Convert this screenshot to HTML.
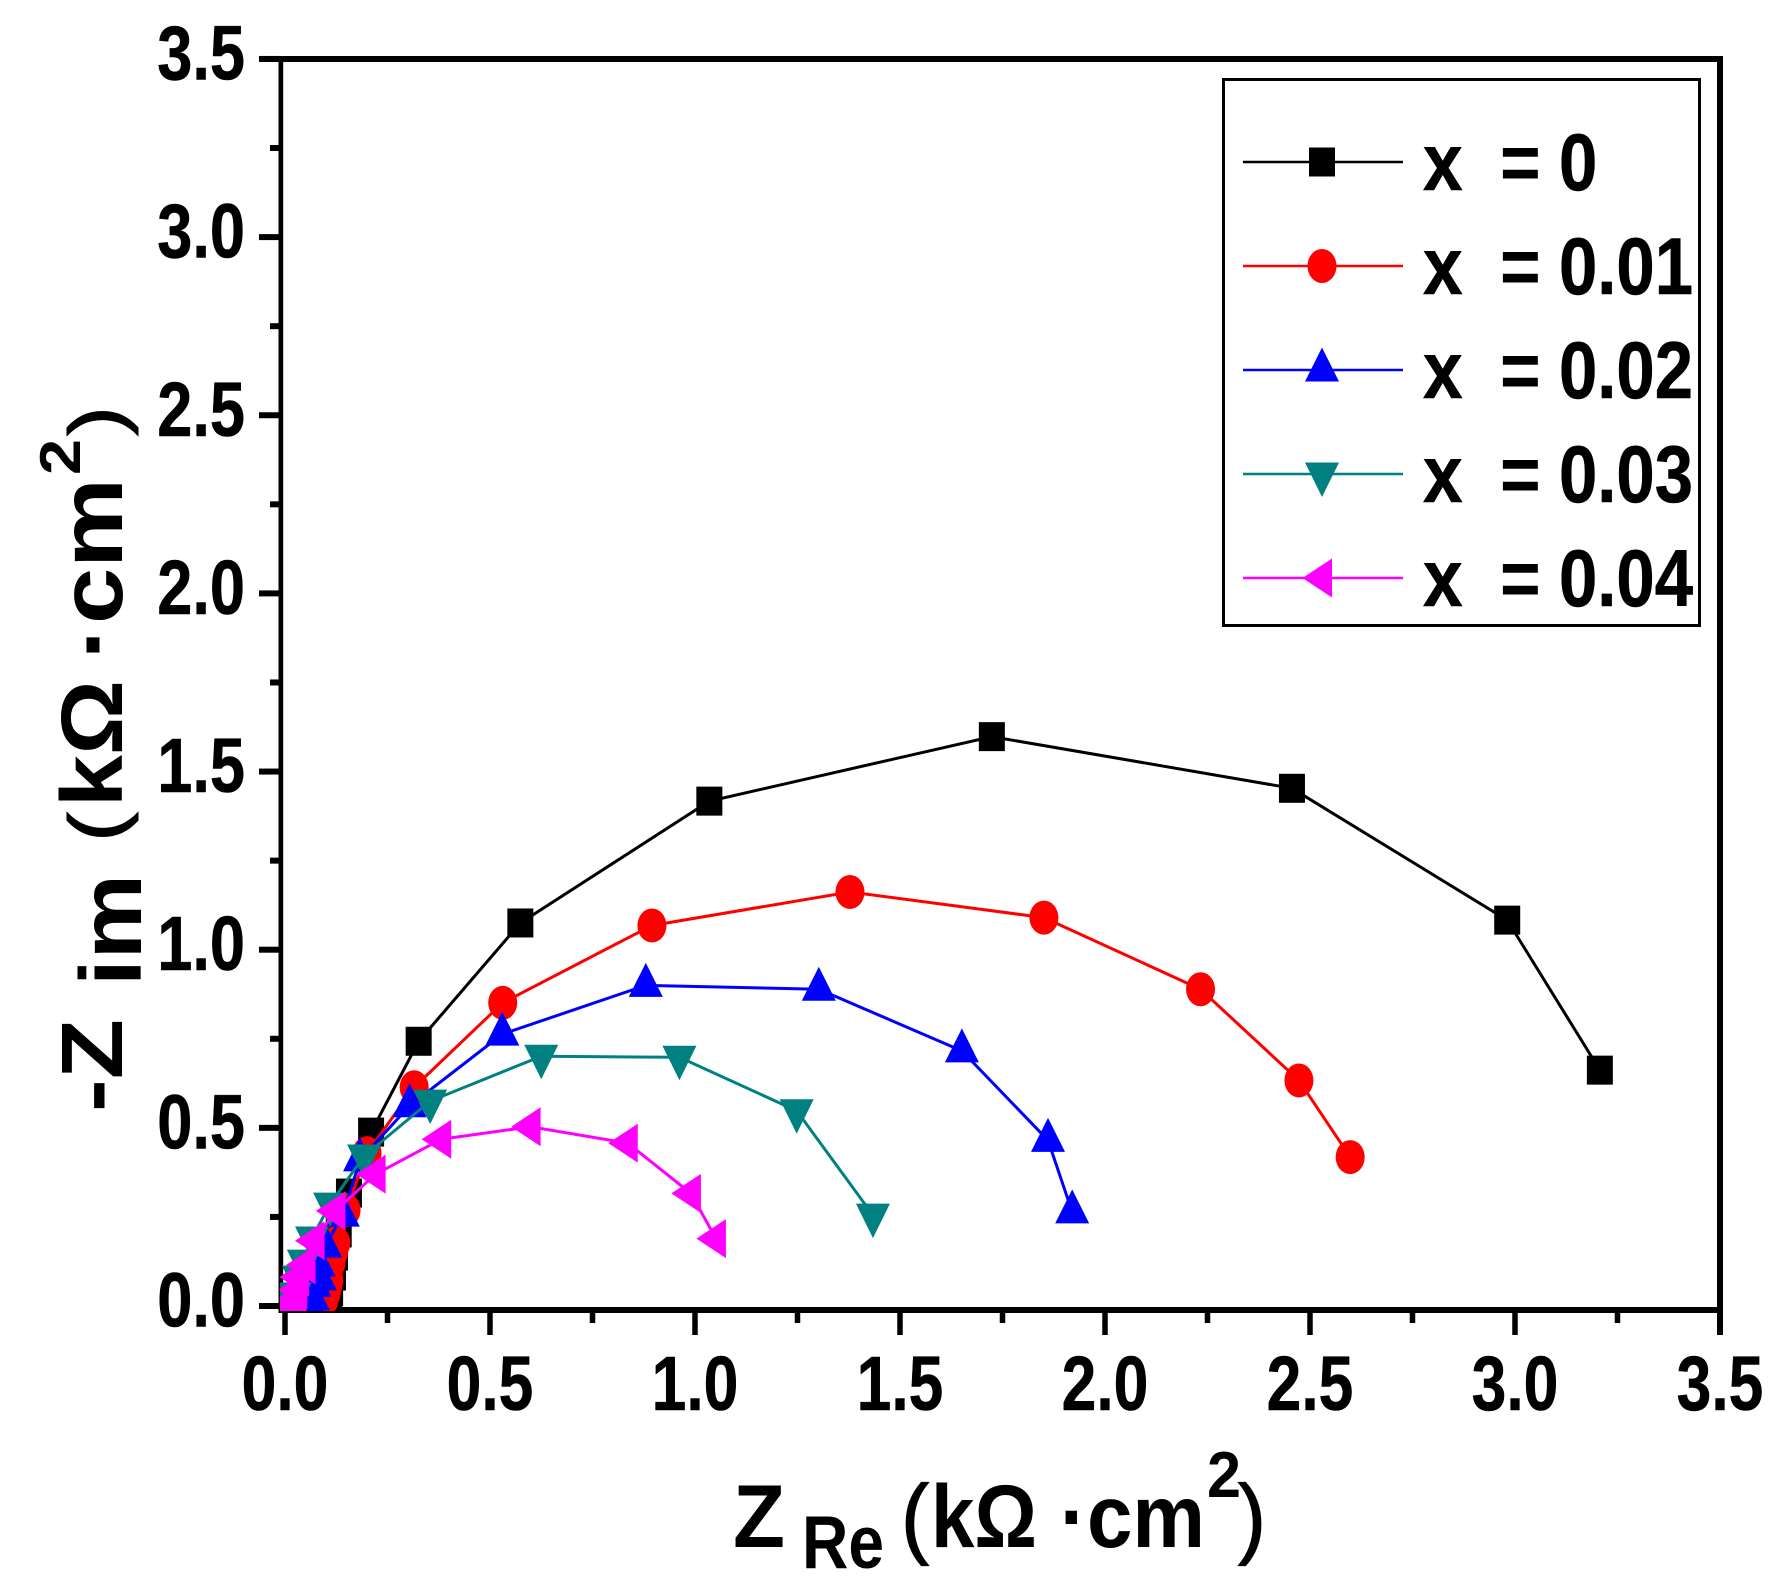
<!DOCTYPE html>
<html lang="en">
<head>
<meta charset="utf-8">
<title>Nyquist plot</title>
<style>
html,body{margin:0;padding:0;background:#fff;}
svg{display:block;}
text{font-family:"Liberation Sans","DejaVu Sans",sans-serif;font-weight:bold;fill:#000;}
text.thin{font-weight:normal;stroke:#000;stroke-width:1.2px;}
</style>
</head>
<body>
<svg id="chart" xmlns="http://www.w3.org/2000/svg" width="1790" height="1593" viewBox="0 0 1790 1593">
  <rect x="0" y="0" width="1790" height="1593" fill="#fff"/>
  <defs>
    <clipPath id="plot-clip"><rect x="280" y="56" width="1440" height="1255"/></clipPath>
  </defs>
  <g id="axes"></g>
  <g id="series" clip-path="url(#plot-clip)"></g>

  <g>
    <text x="733" y="1547" font-size="89" textLength="52" lengthAdjust="spacingAndGlyphs">Z</text>
    <text x="802" y="1568" font-size="75" textLength="82" lengthAdjust="spacingAndGlyphs">Re</text>
    <text class="thin" x="901" y="1547" font-size="89" textLength="28" lengthAdjust="spacingAndGlyphs">(</text>
    <text x="931" y="1547" font-size="89" textLength="106" lengthAdjust="spacingAndGlyphs">kΩ</text>
    <text x="1060" y="1547" font-size="89" textLength="27" lengthAdjust="spacingAndGlyphs">·</text>
    <text x="1087" y="1547" font-size="89" textLength="118" lengthAdjust="spacingAndGlyphs">cm</text>
    <text x="1207" y="1497" font-size="65" textLength="34" lengthAdjust="spacingAndGlyphs">2</text>
    <text class="thin" x="1238" y="1547" font-size="89" textLength="28" lengthAdjust="spacingAndGlyphs">)</text>
  </g>

  <g>
    <text transform="translate(122,1112) rotate(-90) scale(1,.83)" font-size="105" textLength="93" lengthAdjust="spacingAndGlyphs">-Z</text>
    <text transform="translate(141,986) rotate(-90) scale(1,.83)" font-size="105" textLength="112" lengthAdjust="spacingAndGlyphs">im</text>
    <text class="thin" transform="translate(122,842) rotate(-90) scale(1,.83)" font-size="92" textLength="30" lengthAdjust="spacingAndGlyphs">(</text>
    <text transform="translate(122,807) rotate(-90) scale(1,.83)" font-size="105" textLength="127" lengthAdjust="spacingAndGlyphs">kΩ</text>
    <text transform="translate(122,660) rotate(-90) scale(1,.83)" font-size="105" textLength="36" lengthAdjust="spacingAndGlyphs">·</text>
    <text transform="translate(122,624) rotate(-90) scale(1,.83)" font-size="107" textLength="146" lengthAdjust="spacingAndGlyphs">cm</text>
    <text transform="translate(80,475) rotate(-90) scale(1,.83)" font-size="69" textLength="36" lengthAdjust="spacingAndGlyphs">2</text>
    <text class="thin" transform="translate(122,436) rotate(-90) scale(1,.83)" font-size="92" textLength="30" lengthAdjust="spacingAndGlyphs">)</text>
  </g>

  <rect x="1223.5" y="79.5" width="476" height="546" fill="none" stroke="#000" stroke-width="3"/>
  <g id="legend"></g>
</svg>

<script>
const xTickLabels = ["0.0","0.5","1.0","1.5","2.0","2.5","3.0","3.5"];
const yTickLabels = ["0.0","0.5","1.0","1.5","2.0","2.5","3.0","3.5"];
const seriesNames = ["x = 0","x = 0.01","x = 0.02","x = 0.03","x = 0.04"];
const legendValues = ["0","0.01","0.02","0.03","0.04"];

const x0Re = [3.207,2.981,2.456,1.724,1.035,0.574,0.326,0.210,0.156,0.131,0.122,0.117,0.110,0.107];
const x0Im = [0.662,1.083,1.453,1.598,1.417,1.075,0.743,0.488,0.317,0.205,0.140,0.084,0.040,0];

const x1Re = [2.598,2.473,2.233,1.851,1.378,0.895,0.531,0.315,0.200,0.149,0.124,0.118,0.112,0.107,0.104,0.100,0.095,0.088];
const x1Im = [0.418,0.633,0.889,1.090,1.162,1.068,0.851,0.614,0.429,0.269,0.177,0.150,0.121,0.073,0.055,0.036,0.018,0];

const x2Re = [1.920,1.861,1.651,1.302,0.880,0.530,0.304,0.183,0.141,0.098,0.082,0.085,0.072,0.068,0.061];
const x2Im = [0.264,0.465,0.716,0.889,0.900,0.763,0.562,0.410,0.255,0.168,0.115,0.076,0.058,0.020,0];

const x3Re = [1.434,1.248,0.962,0.625,0.354,0.193,0.110,0.066,0.046,0.034,0.024,0.012,0.005];
const x3Im = [0.255,0.548,0.698,0.701,0.575,0.421,0.286,0.191,0.126,0.081,0.034,0.008,0];

const x4Re = [1.051,0.990,0.836,0.599,0.381,0.221,0.123,0.072,0.050,0.034,0.030,0.028,0.025,0.012,0.002];
const x4Im = [0.189,0.316,0.457,0.503,0.468,0.370,0.267,0.183,0.115,0.081,0.045,0.017,0.006,0.004,0];

const NS = "http://www.w3.org/2000/svg";
const xScale = v => 285 + 410 * v;
const yScale = v => 1306 - 356.3 * v;

function make(tag, attrs, parent) {
  const el = document.createElementNS(NS, tag);
  for (const k in attrs) el.setAttribute(k, attrs[k]);
  parent.appendChild(el);
  return el;
}

function drawMarker(kind, cx, cy, color, parent) {
  let el;
  if (kind === "square") {
    el = make("rect", {x: cx - 13, y: cy - 14.5, width: 26, height: 29, fill: color}, parent);
  } else if (kind === "circle") {
    el = make("ellipse", {cx: cx, cy: cy, rx: 14.5, ry: 17, fill: color}, parent);
  } else if (kind === "up") {
    el = make("polygon", {points: `${cx},${cy - 22.5} ${cx - 17},${cy + 11.5} ${cx + 17},${cy + 11.5}`, fill: color}, parent);
  } else if (kind === "down") {
    el = make("polygon", {points: `${cx},${cy + 23} ${cx - 17},${cy - 11.5} ${cx + 17},${cy - 11.5}`, fill: color}, parent);
  } else {
    el = make("polygon", {points: `${cx - 19.5},${cy} ${cx + 10},${cy - 19.5} ${cx + 10},${cy + 19.5}`, fill: color}, parent);
  }
  return el;
}

const axes = document.getElementById("axes");

const spineBottom = make("rect", {x: 278.5, y: 1307, width: 1444.5, height: 6, fill: "#000"}, axes);


const spineLeft = make("rect", {x: 278.5, y: 56, width: 4.7, height: 1257, fill: "#000"}, axes);


const spineTop = make("rect", {x: 259, y: 56, width: 1464, height: 6, fill: "#000"}, axes);


const spineRight = make("rect", {x: 1717, y: 56, width: 6, height: 1279, fill: "#000"}, axes);



xTickLabels.forEach((label, i) => {
  const v = parseFloat(label);
  const px = xScale(v);
  const tick = make("rect", {x: px - 2.75, y: 1313, width: 5.5, height: 22, fill: "#000"}, axes);
  
  
  if (i < xTickLabels.length - 1) {
    const minor = make("rect", {x: xScale(v + 0.25) - 2.75, y: 1313, width: 5.5, height: 10, fill: "#000"}, axes);
    
    
  }
  const t = make("text", {transform: `translate(${px},1410) scale(.81,1)`, "font-size": 77, "text-anchor": "middle", stroke: "#000", "stroke-width": 0.6}, axes);
  t.textContent = label;
  
  
});

yTickLabels.forEach((label, i) => {
  const v = parseFloat(label);
  const py = yScale(v);
  const tick = make("rect", {x: 259, y: py - 3, width: 21, height: 6, fill: "#000"}, axes);
  
  
  if (i < yTickLabels.length - 1) {
    const minor = make("rect", {x: 270, y: yScale(v + 0.25) - 3, width: 10, height: 6, fill: "#000"}, axes);
    
    
  }
  const t = make("text", {transform: `translate(245,${py + 20.5}) scale(.82,1)`, "font-size": 77, "text-anchor": "end", stroke: "#000", "stroke-width": 0.6}, axes);
  t.textContent = label;
  
  
});

const seriesGroup = document.getElementById("series");
const seriesRe = [x0Re, x1Re, x2Re, x3Re, x4Re];
const seriesIm = [x0Im, x1Im, x2Im, x3Im, x4Im];
const colors = ["#000000", "#ff0000", "#0000ff", "#008080", "#ff00ff"];
const markers = ["square", "circle", "up", "down", "left"];

seriesRe.forEach((re, s) => {
  const g = make("g", {}, seriesGroup);
  
  
  const pts = re.map((v, i) => xScale(v) + "," + yScale(seriesIm[s][i])).join(" ");
  const line = make("polyline", {points: pts, fill: "none", stroke: colors[s], "stroke-width": 3}, g);
  
  
  re.forEach((v, i) => {
    const m = drawMarker(markers[s], xScale(v), yScale(seriesIm[s][i]), colors[s], g);
    
    
  });
});

const legend = document.getElementById("legend");
seriesNames.forEach((name, s) => {
  const rowY = 162 + 104 * s;
  const row = make("g", {}, legend);
  
  
  const l = make("line", {x1: 1243, x2: 1403, y1: rowY, y2: rowY, stroke: colors[s], "stroke-width": 2.6}, row);
  
  
  const m = drawMarker(markers[s], 1322, rowY, colors[s], row);
  
  
  const base = rowY + 28;
  const tx = make("text", {transform: `translate(1423,${base}) scale(.88,1)`, "font-size": 81, stroke: "#000", "stroke-width": 0.6}, row);
  tx.textContent = "x";
  
  
  const te = make("text", {transform: `translate(1500,${base}) scale(.86,1)`, "font-size": 81}, row);
  te.textContent = "=";
  
  
  const tv = make("text", {transform: `translate(1559,${base}) scale(.85,1)`, "font-size": 81, stroke: "#000", "stroke-width": 0.6}, row);
  tv.textContent = legendValues[s];
  
  
});
</script>
</body>
</html>
